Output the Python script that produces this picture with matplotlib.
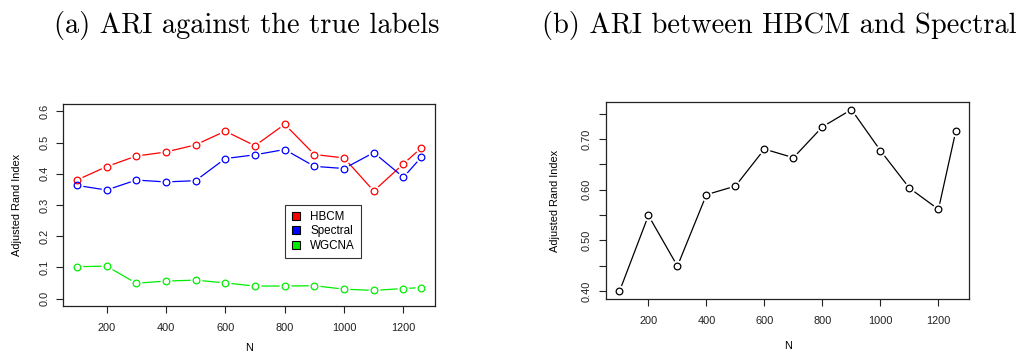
import matplotlib
matplotlib.use("Agg")
import matplotlib.pyplot as plt
from matplotlib.lines import Line2D
import numpy as np

# sample sizes
n_vals = [100, 200, 300, 400, 500, 600, 700, 800, 900, 1000, 1100, 1200, 1260]

# ARI against the true labels
ari_hbcm = [0.380, 0.423, 0.457, 0.470, 0.493, 0.537, 0.490, 0.559, 0.462, 0.451, 0.345, 0.432, 0.483]
ari_spectral = [0.363, 0.348, 0.380, 0.374, 0.378, 0.449, 0.461, 0.478, 0.424, 0.417, 0.468, 0.389, 0.453]
ari_wgcna = [0.102, 0.104, 0.049, 0.056, 0.059, 0.050, 0.040, 0.040, 0.041, 0.030, 0.026, 0.032, 0.035]

# ARI between HBCM and Spectral
ari_between = [0.399, 0.549, 0.449, 0.590, 0.607, 0.680, 0.663, 0.724, 0.758, 0.677, 0.603, 0.561, 0.716]

plt.rcParams['font.family'] = ['Liberation Sans', 'DejaVu Sans']

tick_fs = 7.9


def r_limits(lo, hi):
    # R pads the data range by 4% on each side
    d = (hi - lo) * 0.04
    return lo - d, hi + d


def draw_series(ax, x, y, color):
    # lines with small gaps around the points, like R's type="b"
    ax.plot(x, y, color=color, lw=0.9, zorder=2)
    ax.plot(x, y, ls='none', marker='o', ms=7.5, mfc='white', mec='white', zorder=3)
    ax.plot(x, y, ls='none', marker='o', ms=4.8, mfc='none', mec=color, mew=0.9, zorder=4)


def style_axes(ax):
    for s in ax.spines.values():
        s.set_linewidth(0.9)
        s.set_color('#222222')
    ax.tick_params(direction='out', length=5, width=0.8, colors='#222222', labelsize=tick_fs)
    ax.tick_params(axis='x', pad=7.5)
    ax.tick_params(axis='y', pad=5)
    for lab in ax.get_yticklabels():
        lab.set_rotation(90)
        lab.set_va('center')


fig = plt.figure(figsize=(10.2, 3.54), dpi=100)

# (a) ARI against the true labels
ax1 = fig.add_axes([0.0618, 0.1356, 0.3647, 0.5706])
draw_series(ax1, n_vals, ari_hbcm, '#FF0000')
draw_series(ax1, n_vals, ari_spectral, '#0000FF')
draw_series(ax1, n_vals, ari_wgcna, '#00EE00')
ax1.set_xlim(*r_limits(min(n_vals), max(n_vals)))
ax1.set_ylim(*r_limits(0, 0.6))
ax1.set_xticks([200, 400, 600, 800, 1000, 1200])
ax1.set_yticks(np.arange(0, 0.61, 0.1))
ax1.set_yticklabels(['%.1f' % v for v in np.arange(0, 0.61, 0.1)])
style_axes(ax1)
ax1.set_xlabel('N', fontsize=tick_fs)
ax1.set_ylabel('Adjusted Rand Index', fontsize=tick_fs)
ax1.xaxis.set_label_coords(0.5, -0.183)
ax1.yaxis.set_label_coords(-0.110, 0.5)

handles = [Line2D([], [], ls='none', marker='s', ms=5.5, mfc=c, mec='black', mew=0.8)
           for c in ['#FF0000', '#0000FF', '#00EE00']]
leg = ax1.legend(handles, ['HBCM', 'Spectral', 'WGCNA'], loc='upper left',
                 bbox_to_anchor=(800, 0.3), bbox_transform=ax1.transData,
                 borderaxespad=0, fontsize=tick_fs + 0.5, frameon=True, fancybox=False,
                 handlelength=1.0, handletextpad=0.7, labelspacing=0.22,
                 borderpad=0.5)
leg.get_frame().set_edgecolor('black')
leg.get_frame().set_linewidth(0.8)

# (b) ARI between HBCM and Spectral
ax2 = fig.add_axes([0.5941, 0.1562, 0.3562, 0.5548])
draw_series(ax2, n_vals, ari_between, 'black')
ax2.set_xlim(*r_limits(min(n_vals), max(n_vals)))
ax2.set_ylim(*r_limits(min(ari_between), max(ari_between)))
ax2.set_xticks([200, 400, 600, 800, 1000, 1200])
yt = [0.40, 0.45, 0.50, 0.55, 0.60, 0.65, 0.70, 0.75]
ax2.set_yticks(yt)
ax2.set_yticklabels(['%.2f' % v if i % 2 == 0 else '' for i, v in enumerate(yt)])
style_axes(ax2)
ax2.set_xlabel('N', fontsize=tick_fs)
ax2.set_ylabel('Adjusted Rand Index', fontsize=tick_fs)
ax2.xaxis.set_label_coords(0.5, -0.215)
ax2.yaxis.set_label_coords(-0.127, 0.5)

# panel captions
fig.text(246.5 / 1020, 1 - 33 / 354, '(a) ARI against the true labels',
         family='cmr10', fontsize=20.5, ha='center', va='baseline')
fig.text(779 / 1020, 1 - 33 / 354, '(b) ARI between HBCM and Spectral',
         family='cmr10', fontsize=20.5, ha='center', va='baseline')

fig.savefig('out.png', dpi=100)
